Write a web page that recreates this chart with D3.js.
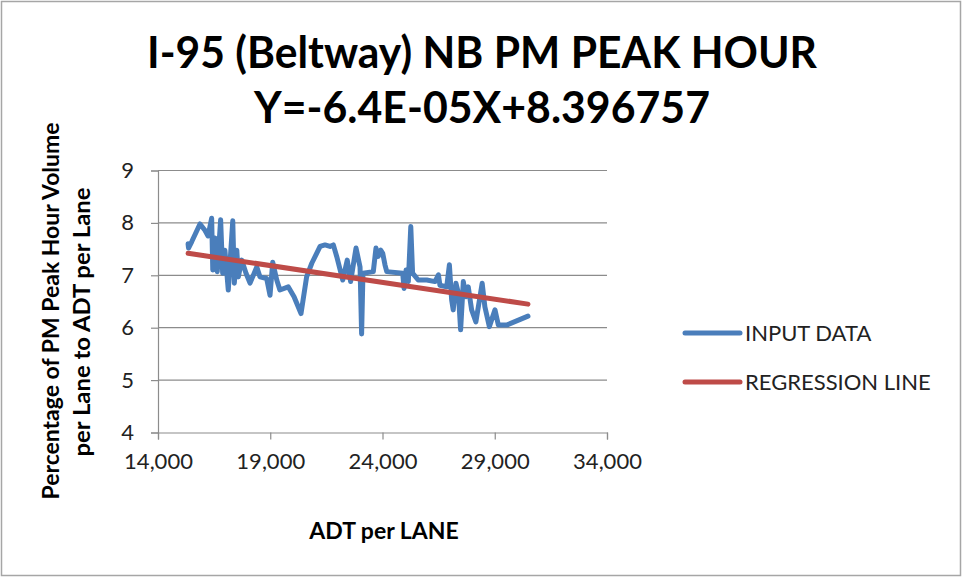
<!DOCTYPE html>
<html>
<head>
<meta charset="utf-8">
<script src="https://cdn.jsdelivr.net/npm/d3@7"></script>
<style>
  body { margin: 0; background: #fff; }
  text { font-family: Lato, "Open Sans", sans-serif; }
</style>
</head>
<body>
<div id="chart"></div>
<script>
// ADT per lane (x) and PM peak hour percentage (y)
var adtValues = [15340, 15360, 15500, 15870, 16090, 16230, 16390, 16440, 16540, 16640,
  16790, 16880, 16980, 17130, 17330, 17400, 17510, 17580, 17730, 17920,
  18100, 18400, 18540, 18840, 18990, 19110, 19290, 19430, 19800, 20060,
  20370, 20620, 20850, 21220, 21440, 21660, 21810, 21960, 22230, 22430,
  22580, 22820, 23000, 23070, 23130, 23590, 23710, 23810, 23920, 24010,
  24110, 24190, 24900, 24960, 25050, 25150, 25260, 25340, 25590, 25970,
  26340, 26490, 26560, 26860, 26980, 27080, 27150, 27270, 27380, 27480,
  27600, 27720, 27820, 27970, 28160, 28440, 28560, 28760, 29010, 29160,
  29530, 30480];
var pctValues = [7.60, 7.52, 7.64, 7.98, 7.86, 7.75, 8.09, 7.10, 7.71, 7.07,
  8.06, 7.04, 7.48, 6.72, 8.04, 6.85, 7.48, 6.97, 7.29, 7.04,
  6.85, 7.16, 6.97, 6.94, 6.62, 7.25, 6.91, 6.72, 6.78, 6.59,
  6.27, 6.97, 7.23, 7.55, 7.58, 7.55, 7.58, 7.36, 6.91, 7.29,
  6.88, 7.52, 7.16, 5.88, 7.04, 7.07, 7.52, 7.36, 7.48, 7.42,
  7.20, 7.07, 7.04, 6.75, 7.10, 6.88, 7.93, 7.04, 6.91, 6.91,
  6.88, 7.01, 6.81, 6.78, 7.20, 6.53, 6.34, 6.85, 6.66, 5.96,
  6.88, 6.59, 6.78, 6.34, 6.11, 6.85, 6.40, 6.02, 6.34, 6.05,
  6.05, 6.22];

// regression line end points
var regAdt = [15340, 30480];
var regPct = [7.42, 6.45];

var xTicks = [14000, 19000, 24000, 29000, 34000];
var yTicks = [4, 5, 6, 7, 8, 9];

var titleLines = ["I-95 (Beltway) NB PM PEAK HOUR", "Y=-6.4E-05X+8.396757"];
var yTitleLines = ["Percentage of PM Peak Hour Volume", "per Lane to ADT per Lane"];
var xTitle = "ADT per LANE";
var seriesNames = ["INPUT DATA", "REGRESSION LINE"];
var seriesColors = ["#4a7ebb", "#be4b48"];

var width = 964,
  height = 578;

var svg = d3.select("#chart")
  .append("svg")
  .attr("width", width)
  .attr("height", height);

// outer frame
svg.append("rect")
  .attr("x", 1.5).attr("y", 1.5)
  .attr("width", 959).attr("height", 574)
  .attr("fill", "#fff")
  .attr("stroke", "#a6a6a6")
  .attr("stroke-width", 1.5);

var x = d3.scaleLinear().domain([14000, 34000]).range([158, 607]);
var y = d3.scaleLinear().domain([4, 9]).range([432.5, 170.5]);

// gridlines
svg.append("g")
  .selectAll("line")
  .data(yTicks.slice(1))
  .enter().append("line")
  .attr("x1", x(14000)).attr("x2", x(34000))
  .attr("y1", function (d) { return y(d); })
  .attr("y2", function (d) { return y(d); })
  .attr("stroke", "#8c8c8c")
  .attr("stroke-width", 1.2);

var yAxis = svg.append("g")
  .attr("transform", "translate(" + x(14000) + ",0)")
  .call(d3.axisLeft(y).tickValues(yTicks).tickSize(7).tickPadding(17)
    .tickFormat(d3.format("d")));

var xAxis = svg.append("g")
  .attr("transform", "translate(0," + y(4) + ")")
  .call(d3.axisBottom(x).tickValues(xTicks).tickSize(7).tickPadding(14)
    .tickFormat(d3.format(",")));

[xAxis, yAxis].forEach(function (ax) {
  ax.select(".domain").attr("stroke", "#8c8c8c").attr("stroke-width", 1.2);
  ax.selectAll(".tick line").attr("stroke", "#8c8c8c").attr("stroke-width", 1.2);
  ax.selectAll(".tick text")
    .attr("fill", "#222")
    .attr("font-size", "22px")
    .attr("font-family", "Lato, sans-serif");
});

// data lines
var inputData = adtValues.map(function (d, i) { return [d, pctValues[i]]; });
var regData = regAdt.map(function (d, i) { return [d, regPct[i]]; });

var line = d3.line()
  .x(function (d) { return x(d[0]); })
  .y(function (d) { return y(d[1]); });

svg.append("path")
  .datum(inputData)
  .attr("d", line)
  .attr("fill", "none")
  .attr("stroke", seriesColors[0])
  .attr("stroke-width", 5)
  .attr("stroke-linejoin", "round")
  .attr("stroke-linecap", "round");

svg.append("path")
  .datum(regData)
  .attr("d", line)
  .attr("fill", "none")
  .attr("stroke", seriesColors[1])
  .attr("stroke-width", 5)
  .attr("stroke-linecap", "round");

// titles
svg.selectAll(".title")
  .data(titleLines)
  .enter().append("text")
  .attr("class", "title")
  .attr("x", 482)
  .attr("y", function (d, i) { return 68 + i * 55; })
  .attr("text-anchor", "middle")
  .attr("font-size", "44px")
  .attr("font-weight", "bold")
  .attr("textLength", function (d, i) { return i === 0 ? 670 : 456; })
  .attr("lengthAdjust", "spacingAndGlyphs")
  .text(function (d) { return d; });

svg.selectAll(".ytitle")
  .data(yTitleLines)
  .enter().append("text")
  .attr("class", "ytitle")
  .attr("transform", function (d, i) {
    return "translate(" + (59 + i * 31) + "," + (i === 0 ? 311 : 322) + ") rotate(-90)";
  })
  .attr("text-anchor", "middle")
  .attr("font-size", "22px")
  .attr("font-weight", "bold")
  .attr("textLength", function (d, i) { return i === 0 ? 377 : 269; })
  .attr("lengthAdjust", "spacingAndGlyphs")
  .text(function (d) { return d; });

svg.append("text")
  .attr("x", 384)
  .attr("y", 539)
  .attr("text-anchor", "middle")
  .attr("font-size", "23px")
  .attr("font-weight", "bold")
  .text(xTitle);

// legend
var legend = svg.selectAll(".legend")
  .data(seriesNames)
  .enter().append("g")
  .attr("class", "legend")
  .attr("transform", function (d, i) { return "translate(685," + (333 + i * 49) + ")"; });

legend.append("line")
  .attr("x1", 0).attr("x2", 55)
  .attr("stroke", function (d, i) { return seriesColors[i]; })
  .attr("stroke-width", 5)
  .attr("stroke-linecap", "round");

legend.append("text")
  .attr("x", 60)
  .attr("y", 8)
  .attr("font-size", "22px")
  .attr("fill", "#222")
  .text(function (d) { return d; });
</script>
</body>
</html>
